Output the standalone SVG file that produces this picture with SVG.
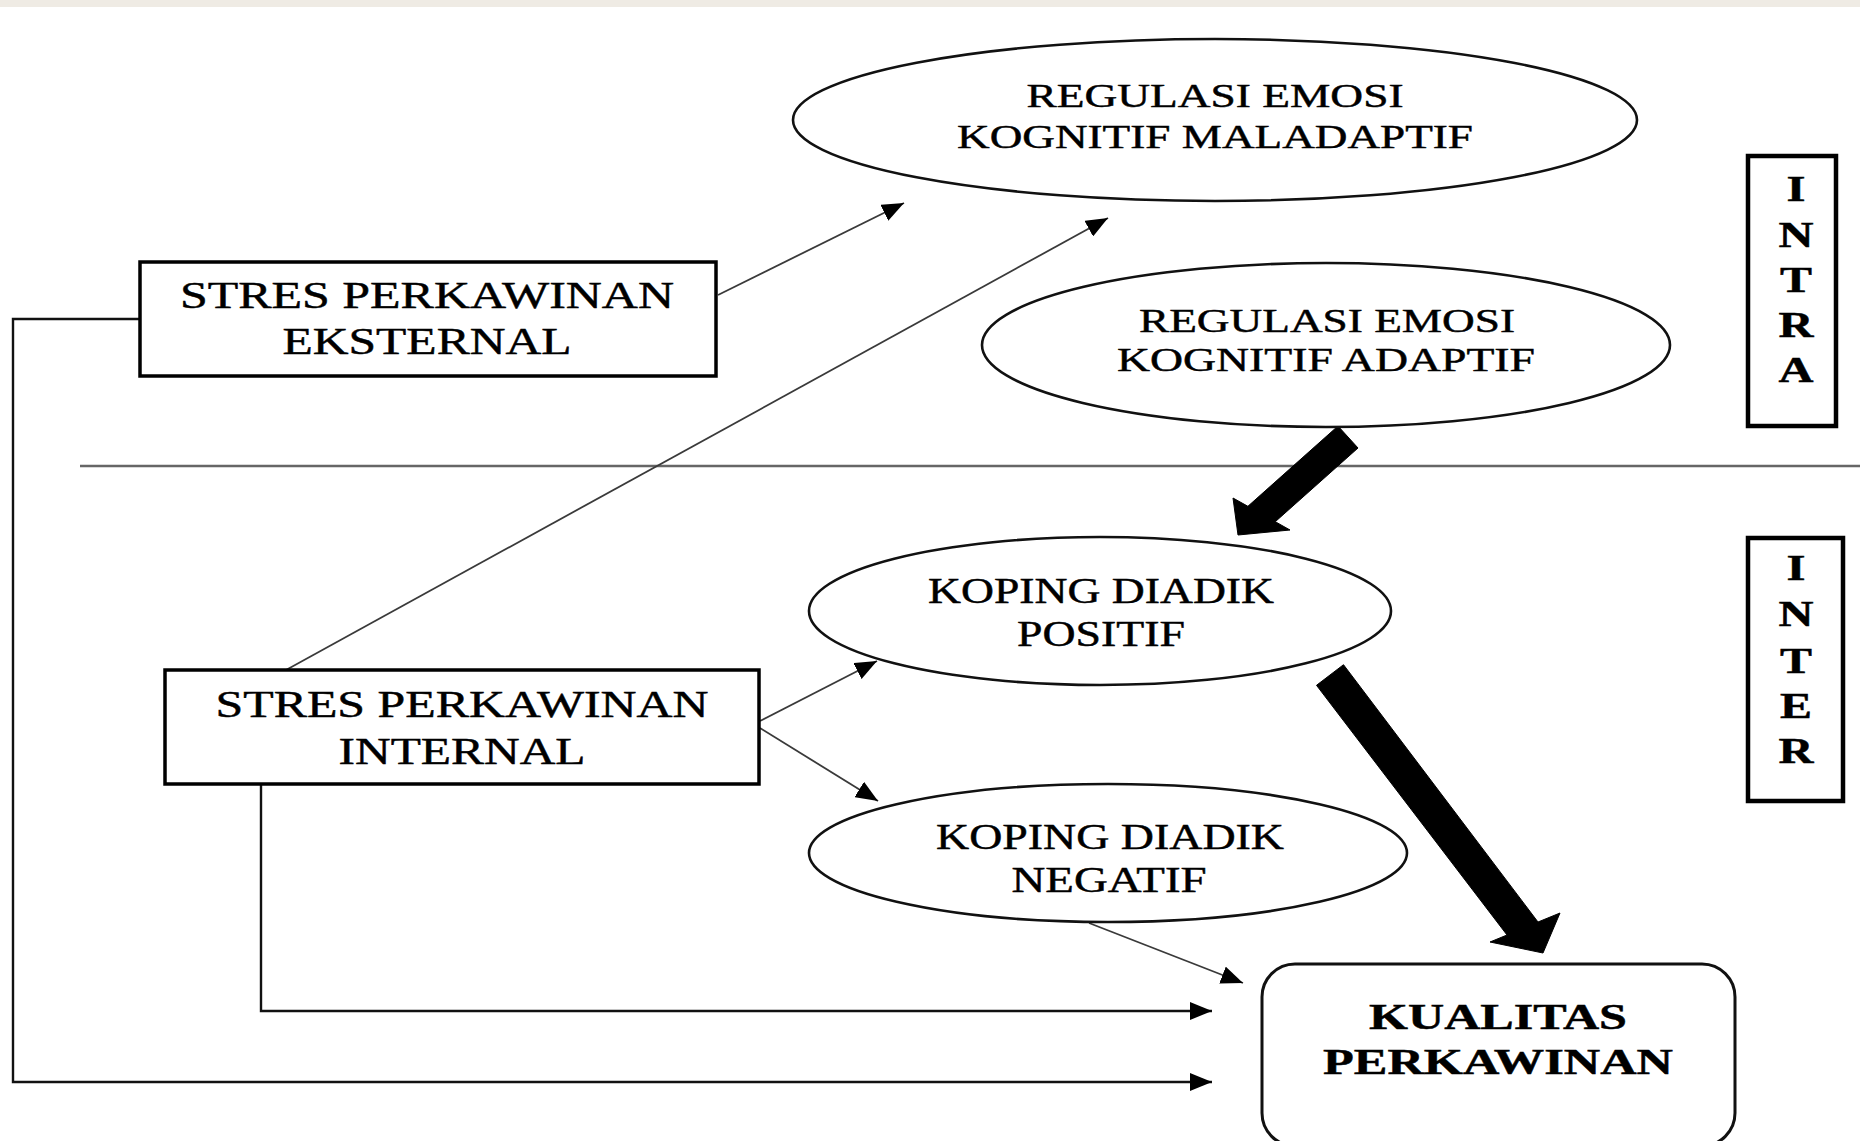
<svg xmlns="http://www.w3.org/2000/svg" width="1860" height="1141" viewBox="0 0 1860 1141">
<style>
.t{font-family:"Liberation Serif","Times New Roman",serif;fill:#000;text-anchor:middle;stroke:#000;stroke-width:0.45}
.b{font-weight:bold}
.ell{fill:#fff;stroke:#111;stroke-width:2.6}
.box{fill:#fff;stroke:#000;stroke-width:3.5}
.side{fill:#fff;stroke:#000;stroke-width:4.5}
.thin{fill:none;stroke:#3a3a3a;stroke-width:1.8}
.frame{fill:none;stroke:#111;stroke-width:2.4}
.fat{fill:#000;stroke:#000;stroke-width:1}
</style>
<defs>
<marker id="ah" markerUnits="userSpaceOnUse" markerWidth="22" markerHeight="18" refX="22" refY="9" orient="auto">
<path d="M0,0 L22,9 L0,18 z" fill="#000"/>
</marker>
</defs>
<rect x="0" y="0" width="1860" height="1141" fill="#fff"/>
<rect x="0" y="0" width="1860" height="7" fill="#efebe4"/>

<g id="divider">
<line x1="80" y1="466" x2="1860" y2="466" stroke="#666" stroke-width="2.5"/>
</g>

<g id="connectors">
<line class="thin" x1="718" y1="295" x2="904" y2="203" marker-end="url(#ah)"/>
<line class="thin" x1="286" y1="670" x2="1108" y2="218" marker-end="url(#ah)"/>
<path class="frame" d="M139,319 H13 V1082 H1212" marker-end="url(#ah)"/>
<path class="frame" stroke-width="2" d="M261,784 V1011 H1212" marker-end="url(#ah)"/>
<line class="thin" x1="760" y1="721" x2="877" y2="661" marker-end="url(#ah)"/>
<line class="thin" x1="760" y1="728" x2="878" y2="801" marker-end="url(#ah)"/>
<line class="thin" x1="1089" y1="923" x2="1243" y2="983" marker-end="url(#ah)"/>
<polygon class="fat" points="1338,426 1247.9,506.3 1233,498 1238,535 1290,530 1275.3,521.7 1358,448"/>
<polygon class="fat" points="1343.5,664.7 1316.5,685.3 1507,935 1490,942 1543,953 1560,913 1538,922"/>
</g>

<g id="node-maladaptif">
<ellipse class="ell" cx="1215" cy="120" rx="422" ry="81"/>
<text class="t" x="1215" y="107" font-size="33" textLength="377" lengthAdjust="spacingAndGlyphs">REGULASI EMOSI</text>
<text class="t" x="1215" y="148" font-size="33" textLength="516" lengthAdjust="spacingAndGlyphs">KOGNITIF MALADAPTIF</text>
</g>

<g id="node-adaptif">
<ellipse class="ell" cx="1326" cy="345" rx="344" ry="82"/>
<text class="t" x="1327" y="332" font-size="33" textLength="376" lengthAdjust="spacingAndGlyphs">REGULASI EMOSI</text>
<text class="t" x="1326" y="371" font-size="33" textLength="418" lengthAdjust="spacingAndGlyphs">KOGNITIF ADAPTIF</text>
</g>

<g id="node-eksternal">
<rect class="box" x="140" y="262" width="576" height="114"/>
<text class="t" x="427" y="308" font-size="38" textLength="494" lengthAdjust="spacingAndGlyphs">STRES PERKAWINAN</text>
<text class="t" x="427" y="354" font-size="38" textLength="289" lengthAdjust="spacingAndGlyphs">EKSTERNAL</text>
</g>

<g id="node-internal">
<rect class="box" x="165" y="670" width="594" height="114"/>
<text class="t" x="462" y="717" font-size="37" textLength="493" lengthAdjust="spacingAndGlyphs">STRES PERKAWINAN</text>
<text class="t" x="462" y="764" font-size="37" textLength="247" lengthAdjust="spacingAndGlyphs">INTERNAL</text>
</g>

<g id="node-positif">
<ellipse class="ell" cx="1100" cy="611" rx="291" ry="74"/>
<text class="t" x="1101" y="603" font-size="36" textLength="346" lengthAdjust="spacingAndGlyphs">KOPING DIADIK</text>
<text class="t" x="1101" y="646" font-size="36" textLength="168" lengthAdjust="spacingAndGlyphs">POSITIF</text>
</g>

<g id="node-negatif">
<ellipse class="ell" cx="1108" cy="853" rx="299" ry="69"/>
<text class="t" x="1110" y="849" font-size="36" textLength="348" lengthAdjust="spacingAndGlyphs">KOPING DIADIK</text>
<text class="t" x="1109" y="892" font-size="36" textLength="195" lengthAdjust="spacingAndGlyphs">NEGATIF</text>
</g>

<g id="node-kualitas">
<rect x="1262" y="964" width="473" height="182" rx="33" ry="33" fill="#fff" stroke="#111" stroke-width="3"/>
<text class="t b" x="1498" y="1029" font-size="36" textLength="258" lengthAdjust="spacingAndGlyphs">KUALITAS</text>
<text class="t b" x="1498" y="1074" font-size="36" textLength="350" lengthAdjust="spacingAndGlyphs">PERKAWINAN</text>
</g>

<g id="node-intra">
<rect class="side" x="1748" y="156" width="88" height="270"/>
<text class="t b" x="1796" y="201" font-size="36" textLength="19" lengthAdjust="spacingAndGlyphs">I</text>
<text class="t b" x="1796" y="247" font-size="36" textLength="35" lengthAdjust="spacingAndGlyphs">N</text>
<text class="t b" x="1796" y="292" font-size="36" textLength="32" lengthAdjust="spacingAndGlyphs">T</text>
<text class="t b" x="1796" y="337" font-size="36" textLength="35" lengthAdjust="spacingAndGlyphs">R</text>
<text class="t b" x="1796" y="382" font-size="36" textLength="35" lengthAdjust="spacingAndGlyphs">A</text>
</g>

<g id="node-inter">
<rect class="side" x="1748" y="538" width="95" height="263"/>
<text class="t b" x="1796" y="580" font-size="36" textLength="19" lengthAdjust="spacingAndGlyphs">I</text>
<text class="t b" x="1796" y="626" font-size="36" textLength="35" lengthAdjust="spacingAndGlyphs">N</text>
<text class="t b" x="1796" y="673" font-size="36" textLength="32" lengthAdjust="spacingAndGlyphs">T</text>
<text class="t b" x="1796" y="718" font-size="36" textLength="32" lengthAdjust="spacingAndGlyphs">E</text>
<text class="t b" x="1796" y="763" font-size="36" textLength="35" lengthAdjust="spacingAndGlyphs">R</text>
</g>
</svg>
